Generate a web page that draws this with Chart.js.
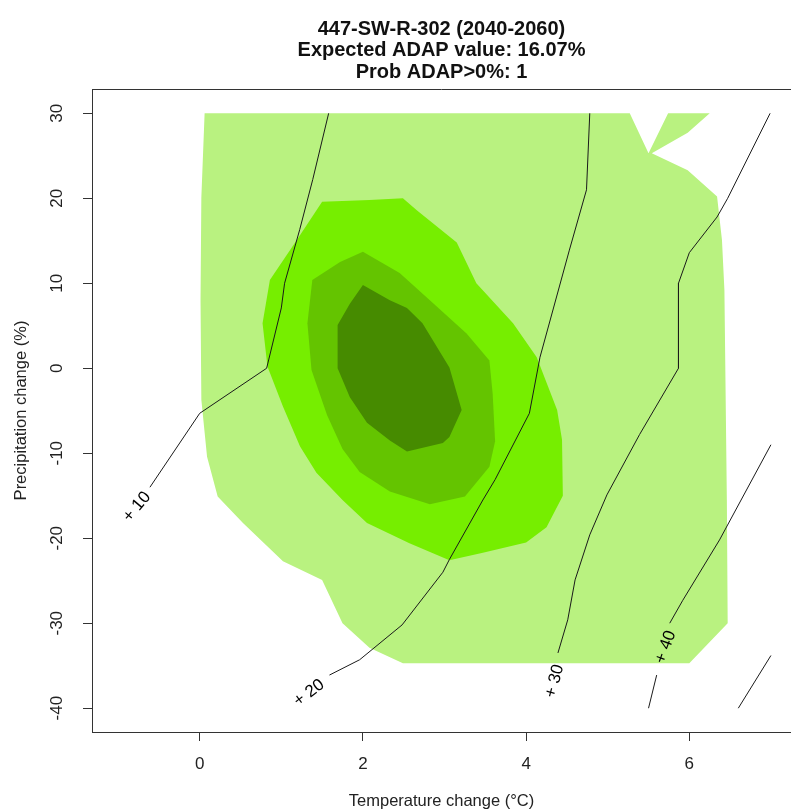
<!DOCTYPE html>
<html><head><meta charset="utf-8">
<script src="https://cdn.jsdelivr.net/npm/chart.js@4/dist/chart.umd.min.js"></script>
<style>html,body{margin:0;padding:0;background:#fff;overflow:hidden}</style>
</head><body>
<div style="width:791px;height:811px"><canvas id="c" width="791" height="811"></canvas></div>
<script>
// ---- text ----
const titleLines = ['447-SW-R-302 (2040-2060)', 'Expected ADAP value: 16.07%', 'Prob ADAP>0%: 1'];
const xTitle = 'Temperature change (\u00B0C)';
const yTitle = 'Precipitation change (%)';
const xTicks = [0, 2, 4, 6];
const yTicks = [-40, -30, -20, -10, 0, 10, 20, 30];

// ---- filled probability zones (temperature change, precipitation change) ----
const zone1Temp = [0.06, 0.02, 0.01, 0.02, 0.09, 0.22, 0.53, 1.02, 1.5, 1.75, 2.08, 2.49, 6.0, 6.47, 6.46, 6.43, 6.4, 6.34, 5.98, 5.54, 5.98, 6.25, 5.74, 5.5, 5.27];
const zone1Prec = [30, 20.1, 8.0, -3.7, -10.4, -15.1, -18.2, -22.7, -24.9, -30.0, -32.9, -34.7, -34.7, -30.0, -15.5, 9.2, 15.1, 20.2, 23.3, 25.3, 27.7, 30, 30, 25.3, 30];
const zone2Temp = [1.5, 2.08, 2.49, 2.66, 3.15, 3.39, 3.84, 4.13, 4.38, 4.44, 4.45, 4.25, 4.0, 3.47, 3.06, 2.57, 2.05, 1.75, 1.43, 1.23, 1.02, 0.83, 0.77, 0.86, 1.19];
const zone2Prec = [19.6, 19.8, 20.0, 18.6, 14.8, 10.0, 5.3, 1.3, -4.9, -8.4, -15.0, -18.7, -20.5, -21.7, -22.6, -20.6, -18.2, -15.5, -12.3, -9.2, -4.5, 0.2, 5.3, 10.4, 15.1];
const zone3Temp = [2.0, 2.45, 2.82, 3.27, 3.55, 3.59, 3.62, 3.55, 3.25, 2.82, 2.33, 1.96, 1.75, 1.56, 1.37, 1.32, 1.38, 1.72];
const zone3Prec = [13.7, 11.2, 8.0, 4.1, 0.9, -3.0, -8.6, -11.6, -15.1, -16.0, -14.5, -12.2, -9.5, -5.5, -0.2, 5.3, 10.4, 12.5];
const zone4Temp = [2.0, 2.33, 2.54, 2.73, 3.06, 3.21, 3.06, 2.98, 2.54, 2.33, 2.05, 1.84, 1.69, 1.69, 1.84];
const zone4Prec = [9.8, 8.0, 7.1, 5.3, 0.1, -4.9, -8.1, -8.8, -9.8, -8.5, -6.4, -3.4, 0.0, 5.1, 7.6];

// ---- ADAP value isolines ----
const iso10Temp = [1.58, 1.385, 1.225, 1.04, 1.0, 0.82, 0.0, -0.61];
const iso10Prec = [30, 22.2, 16.3, 10.0, 7.1, 0.0, -5.3, -14.0];
const iso20Temp = [4.78, 4.74, 4.53, 4.17, 4.04, 3.62, 3.47, 3.06, 2.98, 2.48, 1.96, 1.59];
const iso20Prec = [30, 21.0, 13.9, 1.3, -5.3, -13.1, -15.5, -22.5, -24.0, -30.2, -34.3, -36.1];
const iso30Temp = [6.99, 6.47, 6.34, 6.0, 5.867, 5.867, 5.39, 4.99, 4.78, 4.6, 4.51, 4.39];
const iso30Prec = [30, 20.0, 17.8, 13.6, 10.0, 0.0, -7.8, -14.9, -19.6, -24.9, -29.6, -33.5];
const iso40aTemp = [7.0, 6.37, 5.92, 5.76];
const iso40aPrec = [-9.0, -20.2, -27.3, -30.0];
const iso40bTemp = [5.6, 5.5];
const iso40bPrec = [-36.1, -40.0];
const iso50Temp = [7.0, 6.6];
const iso50Prec = [-33.8, -40.0];

// ---- isoline labels ----
const isoLabels = ['+ 10', '+ 20', '+ 30', '+ 40'];
const isoLabelTemp = [-0.77, 1.34, 4.35, 5.71];
const isoLabelPrec = [-16.3, -38.2, -36.8, -32.8];
const isoLabelAngle = [-50, -37, -75, -70];

const FONT = '"Liberation Sans", Arial, Helvetica, sans-serif';
const pts = (xs, ys) => xs.map((v, i) => ({x: v, y: ys[i]}));

function zone(xs, ys, color, order) {
  return {data: pts(xs, ys), showLine: true, fill: 'shape', backgroundColor: color,
    borderColor: 'rgba(0,0,0,0)', borderWidth: 0, pointRadius: 0, pointHoverRadius: 0, tension: 0, order: order};
}
function iso(xs, ys) {
  return {data: pts(xs, ys), showLine: true, fill: false, borderColor: '#1a1a1a', borderWidth: 1,
    pointRadius: 0, pointHoverRadius: 0, tension: 0, order: 1};
}

const framePlugin = {
  id: 'frame',
  afterDatasetsDraw(chart) {
    const {ctx, chartArea: a, scales} = chart;
    ctx.save();
    ctx.beginPath(); ctx.rect(a.left, a.top, a.right - a.left, a.bottom - a.top); ctx.clip();
    ctx.fillStyle = '#000';
    ctx.font = '17px ' + FONT;
    ctx.textAlign = 'center'; ctx.textBaseline = 'middle';
    isoLabels.forEach((t, i) => {
      const px = scales.x.getPixelForValue(isoLabelTemp[i]);
      const py = scales.y.getPixelForValue(isoLabelPrec[i]);
      ctx.save(); ctx.translate(px, py); ctx.rotate(isoLabelAngle[i] * Math.PI / 180);
      ctx.fillText(t, 0, 0); ctx.restore();
    });
    ctx.restore();
    ctx.save();
    ctx.strokeStyle = '#333'; ctx.lineWidth = 1;
    ctx.beginPath(); ctx.moveTo(a.left, a.top + 0.5); ctx.lineTo(a.right, a.top + 0.5); ctx.stroke();
    ctx.restore();
  }
};

new Chart(document.getElementById('c'), {
  type: 'scatter',
  data: {datasets: [
    zone(zone1Temp, zone1Prec, '#b9f280', 9),
    zone(zone2Temp, zone2Prec, '#76ee00', 8),
    zone(zone3Temp, zone3Prec, '#64c400', 7),
    zone(zone4Temp, zone4Prec, '#468b00', 6),
    iso(iso10Temp, iso10Prec), iso(iso20Temp, iso20Prec), iso(iso30Temp, iso30Prec),
    iso(iso40aTemp, iso40aPrec), iso(iso40bTemp, iso40bPrec), iso(iso50Temp, iso50Prec)
  ]},
  options: {
    responsive: false, animation: false, events: [],
    layout: {padding: 0},
    plugins: {
      legend: {display: false}, tooltip: {enabled: false},
      title: {display: true, text: titleLines, fullSize: false, color: '#111',
        font: {family: FONT, size: 20, weight: 'bold', lineHeight: 1.075},
        padding: {top: 18.25, bottom: 6.25}}
    },
    scales: {
      x: {type: 'linear', min: -1.32, max: 7.246,
        afterBuildTicks: s => { s.ticks = xTicks.map(v => ({value: v})); },
        afterFit: s => { s.height = 79; },
        grid: {drawOnChartArea: false, drawTicks: true, tickLength: 9, tickColor: '#333', tickWidth: 1},
        border: {display: true, color: '#333', width: 1},
        ticks: {color: '#222', font: {family: FONT, size: 17}, padding: 13, maxRotation: 0, autoSkip: false},
        title: {display: true, text: xTitle, color: '#222', font: {family: FONT, size: 16.5}, padding: {top: 0, bottom: 0}}
      },
      y: {type: 'linear', min: -42.8, max: 32.86,
        afterBuildTicks: s => { s.ticks = yTicks.map(v => ({value: v})); },
        afterFit: s => { s.width = 92; },
        grid: {drawOnChartArea: false, drawTicks: true, tickLength: 9, tickColor: '#333', tickWidth: 1},
        border: {display: true, color: '#333', width: 1},
        ticks: {color: '#222', font: {family: FONT, size: 17}, padding: 13, minRotation: 90, maxRotation: 90, crossAlign: 'center', autoSkip: false},
        title: {display: true, text: yTitle, color: '#222', font: {family: FONT, size: 16.5}, padding: {top: 12, bottom: 0}}
      }
    }
  },
  plugins: [framePlugin]
});
</script>
</body></html>
